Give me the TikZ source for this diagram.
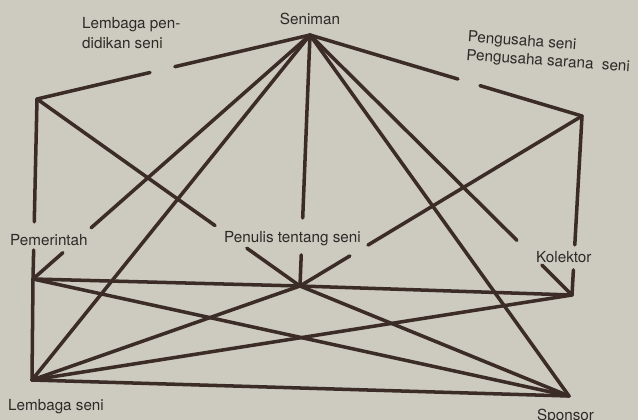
\documentclass[tikz,border=0pt]{standalone}
\usepackage{fontspec}
\setmainfont{TeX Gyre Heros}
\usetikzlibrary{calc, positioning}

\definecolor{paper}{RGB}{205,202,191}
\definecolor{ink}{RGB}{60,44,40}
\definecolor{type}{RGB}{45,42,40}

\begin{document}
\begin{tikzpicture}[
    x=0.03cm, y=-0.03cm,
    link/.style={draw=ink, line width=3pt, line cap=round},
    lbl/.style={text=type, font=\fontsize{13}{17}\selectfont, inner sep=0pt, align=left}
]
\fill[paper] (0,0) rectangle (638,420);
\useasboundingbox (0,0) rectangle (638,420);

% points of the network
\coordinate (S) at (310,35);
\coordinate (LP) at (37,99);
\coordinate (PS) at (582,116);
\coordinate (Pm) at (33,279);
\coordinate (PT) at (300,286);
\coordinate (K) at (572,295);
\coordinate (LS) at (32,380);
\coordinate (Sp) at (569,396);

% labels
\node (seniman) [lbl, anchor=base] at (310,25) {Seniman};
\node (pendidikan) [lbl, anchor=base west] at (82,48) {Lembaga pen-\\didikan seni};
\node (pengusaha) [lbl, anchor=base west, rotate=-4, font=\fontsize{13}{15.5}\selectfont] at (466,60) {Pengusaha seni\\Pengusaha sarana\ \ seni};
\node (pemerintah) [lbl, anchor=base west] at (10,245) {Pemerintah};
\node (penulis) [lbl, anchor=base west] at (224,242) {Penulis tentang seni};
\node (kolektor) [lbl, anchor=base west] at (536,262) {Kolektor};
\node (lembaga) [lbl, anchor=base west] at (8,410) {Lembaga seni};
\node (sponsor) [lbl, anchor=base west] at (537,420) {Sponsor};

% connectors, broken where they pass a label
\draw[link] (S) -- ($(S)!.495!(LP)$) ($(S)!.586!(LP)$) -- (LP);
\draw[link] (S) -- ($(S)!.544!(PS)$) ($(S)!.625!(PS)$) -- (PS);
\draw[link] (LP) -- ($(LP)!.683!(Pm)$) ($(LP)!.839!(Pm)$) -- (Pm);
\draw[link] (S) -- ($(S)!.79!(Pm)$) ($(S)!.892!(Pm)$) -- (Pm);
\draw[link] (S) -- ($(S)!.729!(PT)$) ($(S)!.876!(PT)$) -- (PT);
\draw[link] (LP) -- ($(LP)!.677!(PT)$) ($(LP)!.798!(PT)$) -- (PT);
\draw[link] (PS) -- ($(PS)!.759!(PT)$) ($(PS)!.823!(PT)$) -- (PT);
\draw[link] (PS) -- ($(PS)!.72!(K)$) ($(PS)!.86!(K)$) -- (K);
\draw[link] (S) -- ($(S)!.79!(K)$) ($(S)!.885!(K)$) -- (K);

% unbroken connectors
\draw[link] (S) -- (LS);
\draw[link] (S) -- (Sp);
\draw[link] (Pm) -- (LS);
\draw[link] (Pm) -- (PT);
\draw[link] (Pm) -- (Sp);
\draw[link] (PT) -- (K);
\draw[link] (PT) -- (Sp);
\draw[link] (LS) -- (PT);
\draw[link] (LS) -- (K);
\draw[link] (LS) -- (Sp);
\end{tikzpicture}
\end{document}
